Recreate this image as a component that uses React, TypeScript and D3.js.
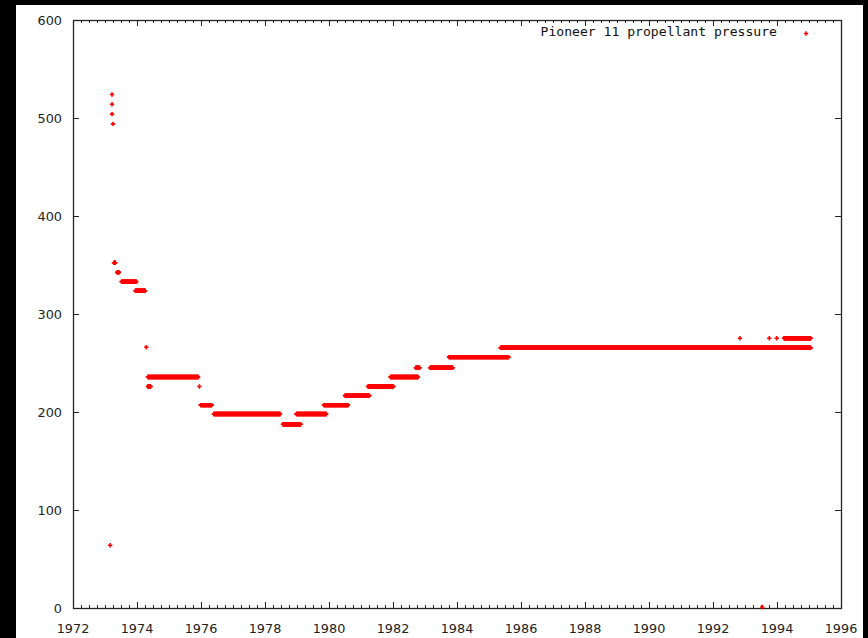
import React from "react";
import * as d3 from "d3";

// Flat runs of measurements (start year, end year, pressure)
const runStart = [1973.28, 1973.38, 1973.52, 1973.95, 1974.34, 1974.34, 1975.99, 1976.40, 1978.56, 1978.98, 1979.84, 1980.50, 1981.22, 1981.92, 1982.71, 1983.16, 1983.75, 1985.36, 1994.22];
const runEnd = [1973.32, 1973.43, 1973.97, 1974.25, 1975.91, 1974.42, 1976.33, 1978.47, 1979.11, 1979.91, 1980.59, 1981.26, 1982.01, 1982.78, 1982.83, 1983.86, 1985.61, 1995.05, 1995.05];
const runValue = [352.3, 342.5, 333, 323.8, 235.7, 226, 207, 198, 187.5, 198, 207, 216.7, 226, 235.7, 245.2, 245.2, 256, 265.6, 275.2];

// Isolated measurements
const pointYear = [1973.16, 1973.22, 1973.22, 1973.22, 1973.25, 1974.29, 1975.95, 1992.84, 1993.54, 1993.76, 1993.99];
const pointValue = [64, 524, 514, 504, 494, 266, 226, 275.2, 1, 275.2, 275.2];

const xTicks = [1972, 1974, 1976, 1978, 1980, 1982, 1984, 1986, 1988, 1990, 1992, 1994, 1996];
const yTicks = [0, 100, 200, 300, 400, 500, 600];
const legendLabel = "Pioneer 11 propellant pressure";

const W = 868, H = 638;
const L = 73, R = 841, T = 20, B = 608;

export default function App() {
  const x = d3.scaleLinear().domain([1972, 1996]).range([L, R]);
  const y = d3.scaleLinear().domain([0, 600]).range([B, T]);

  const pts: [number, number][] = [];
  const step = 1 / 80;
  runStart.forEach((s, i) => {
    for (let t = s; t <= runEnd[i] + 1e-9; t += step) pts.push([t, runValue[i]]);
    pts.push([runEnd[i], runValue[i]]);
  });
  pointYear.forEach((t, i) => pts.push([t, pointValue[i]]));

  const minor = d3.range(1972, 1996.001, 0.25);
  const cross = "M-2.2,0H2.2M0,-2.2V2.2";
  const axisColor = "#222";

  return (
    <svg width={W} height={H} style={{ position: "absolute", left: 0, top: 0, display: "block" }}>
      <rect x={0} y={0} width={W} height={H} fill="#000" />
      <rect x={16} y={5} width={847} height={H - 5} fill="#fff" />
      {minor.map((t, i) => (
        <g key={"m" + i}>
          <line x1={Math.round(x(t)) + 0.5} x2={Math.round(x(t)) + 0.5} y1={B} y2={B - 3} stroke={axisColor} />
          <line x1={Math.round(x(t)) + 0.5} x2={Math.round(x(t)) + 0.5} y1={T} y2={T + 3} stroke={axisColor} />
        </g>
      ))}
      {xTicks.map((t) => (
        <g key={"x" + t}>
          <line x1={Math.round(x(t)) + 0.5} x2={Math.round(x(t)) + 0.5} y1={B} y2={B - 6} stroke={axisColor} />
          <line x1={Math.round(x(t)) + 0.5} x2={Math.round(x(t)) + 0.5} y1={T} y2={T + 6} stroke={axisColor} />
          <text x={x(t)} y={633} textAnchor="middle" fontFamily="DejaVu Sans" fontSize={12.8} fill="#222">{t}</text>
        </g>
      ))}
      {yTicks.map((v) => (
        <g key={"y" + v}>
          <line x1={L} x2={L + 6} y1={Math.round(y(v)) + 0.5} y2={Math.round(y(v)) + 0.5} stroke={axisColor} />
          <line x1={R} x2={R - 6} y1={Math.round(y(v)) + 0.5} y2={Math.round(y(v)) + 0.5} stroke={axisColor} />
          <text x={62} y={y(v)} dy="0.36em" textAnchor="end" fontFamily="DejaVu Sans" fontSize={12.8} fill="#222">{v}</text>
        </g>
      ))}
      <rect x={L + 0.5} y={T + 0.5} width={R - L} height={B - T} fill="none" stroke={axisColor} strokeWidth={1.3} />
      <text x={777} y={36} textAnchor="end" fontFamily="DejaVu Sans Mono" fontSize={13.1} fill="#111">{legendLabel}</text>
      <path d={cross} transform="translate(806,33.5)" stroke="#ff0000" strokeWidth={1.5} fill="none" />
      <g stroke="#ff0000" strokeWidth={1.6} fill="none">
        {pts.map((p, i) => (
          <path key={i} d={cross} transform={`translate(${x(p[0])},${y(p[1])})`} />
        ))}
      </g>
    </svg>
  );
}
